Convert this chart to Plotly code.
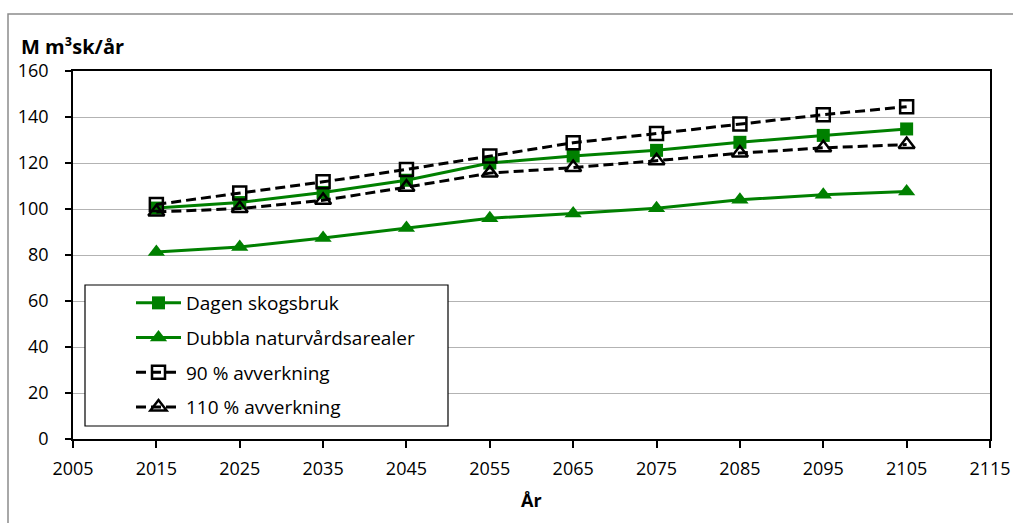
import plotly.graph_objects as go

years = [2015, 2025, 2035, 2045, 2055, 2065, 2075, 2085, 2095, 2105]
dagen = [100.4, 102.8, 107.2, 112.5, 120.0, 123.0, 125.5, 129.0, 132.0, 134.8]
dubbla = [81.3, 83.5, 87.4, 91.7, 96.0, 98.0, 100.3, 104.0, 106.2, 107.6]
avv90 = [102.0, 107.0, 111.8, 117.2, 123.0, 128.8, 132.8, 137.0, 141.0, 144.5]
avv110 = [98.7, 100.2, 103.8, 109.5, 115.6, 118.0, 121.0, 124.3, 126.6, 128.0]

x_ticks = list(range(2005, 2116, 10))
y_ticks = list(range(0, 161, 20))

GREEN = "#008000"
FONT = "Open Sans"

fig = go.Figure()
fig.add_trace(go.Scatter(x=years, y=dagen, name="Dagen skogsbruk", mode="lines+markers",
                         line=dict(color=GREEN, width=3),
                         marker=dict(symbol="square", size=13, color=GREEN),
                         legendgroup="a"))
fig.add_trace(go.Scatter(x=years, y=dubbla, name="Dubbla naturvårdsarealer", mode="lines+markers",
                         line=dict(color=GREEN, width=3),
                         marker=dict(symbol="triangle-up", size=15, color=GREEN),
                         legendgroup="b"))
fig.add_trace(go.Scatter(x=years, y=avv90, name="90 % avverkning", mode="lines+markers",
                         line=dict(color="black", width=3, dash="10px,5px"),
                         marker=dict(symbol="square-open", size=13, color="black",
                                     line=dict(width=2.5, color="black")),
                         legendgroup="c"))
# last-drawn series sits on the overlaying axis (same range) that carries the visible tick marks
fig.add_trace(go.Scatter(x=years, y=avv110, name="110 % avverkning", mode="lines+markers",
                         line=dict(color="black", width=3, dash="10px,5px"),
                         marker=dict(symbol="triangle-up-open", size=14, color="black",
                                     line=dict(width=2.5, color="black")),
                         legendgroup="d", yaxis="y2"))

L, R, T, B = 73, 23, 71, 84
W, H = 1013, 523
pw, ph = W - L - R, H - T - B

def px_x(p):
    return (p - L) / pw

def px_y(p):
    return (H - B - p) / ph

fig.update_layout(
    width=W, height=H,
    margin=dict(l=L, r=R, t=T, b=B, pad=0, autoexpand=False),
    paper_bgcolor="white", plot_bgcolor="white",
    font=dict(family=FONT, size=18, color="black"),
    showlegend=True,
    legend=dict(x=px_x(131), y=px_y(284), xanchor="left", yanchor="top",
                borderwidth=0, bgcolor="rgba(0,0,0,0)", itemwidth=45,
                font=dict(family=FONT, size=19, color="black"),
                tracegroupgap=7, traceorder="grouped"),
    xaxis=dict(range=[2005, 2115], tickvals=x_ticks, ticktext=[str(v) for v in x_ticks],
               showgrid=False, zeroline=False, showline=True, linecolor="black", linewidth=1.5,
               mirror=True, ticks="outside", ticklen=7, tickcolor="black", tickwidth=1.5,
               ticklabelstandoff=6, automargin=False,
               tickfont=dict(family=FONT, size=18)),
    yaxis=dict(range=[0, 160], tickvals=y_ticks, showgrid=True, gridcolor="#b3b3b3", gridwidth=1.3,
               zeroline=False, showline=True, linecolor="black", linewidth=1.5, mirror=True,
               ticks="outside", ticklen=19, tickcolor="rgba(0,0,0,0)", tickwidth=1.5,
               automargin=False, tickfont=dict(family=FONT, size=18)),
    yaxis2=dict(range=[0, 160], tickvals=y_ticks, overlaying="y", side="left",
                showgrid=False, zeroline=False, showline=False, showticklabels=False,
                ticks="outside", ticklen=7, tickcolor="black", tickwidth=1.5, automargin=False),
    annotations=[
        dict(text="<b>M m³sk/år</b>", xref="paper", yref="paper",
             x=px_x(19), y=px_y(47), xanchor="left", yanchor="middle",
             showarrow=False, font=dict(family=FONT, size=20, color="black")),
        dict(text="<b>År</b>", xref="paper", yref="paper",
             x=0.5, y=px_y(500), xanchor="center", yanchor="middle",
             showarrow=False, font=dict(family=FONT, size=18, color="black")),
    ],
    shapes=[
        dict(type="rect", xref="paper", yref="paper",
             x0=px_x(8), x1=px_x(1100), y0=px_y(700), y1=px_y(14),
             line=dict(color="#8c8c8c", width=1.5), fillcolor="rgba(0,0,0,0)", layer="below"),
        dict(type="rect", xref="paper", yref="paper",
             x0=px_x(85), x1=px_x(448), y0=px_y(426), y1=px_y(285),
             line=dict(color="black", width=1.2), fillcolor="white", layer="above"),
    ],
)

fig.write_html("out.html", config={"displayModeBar": False},
               post_script="document.body.style.margin='0px';document.body.style.overflow='hidden';")
